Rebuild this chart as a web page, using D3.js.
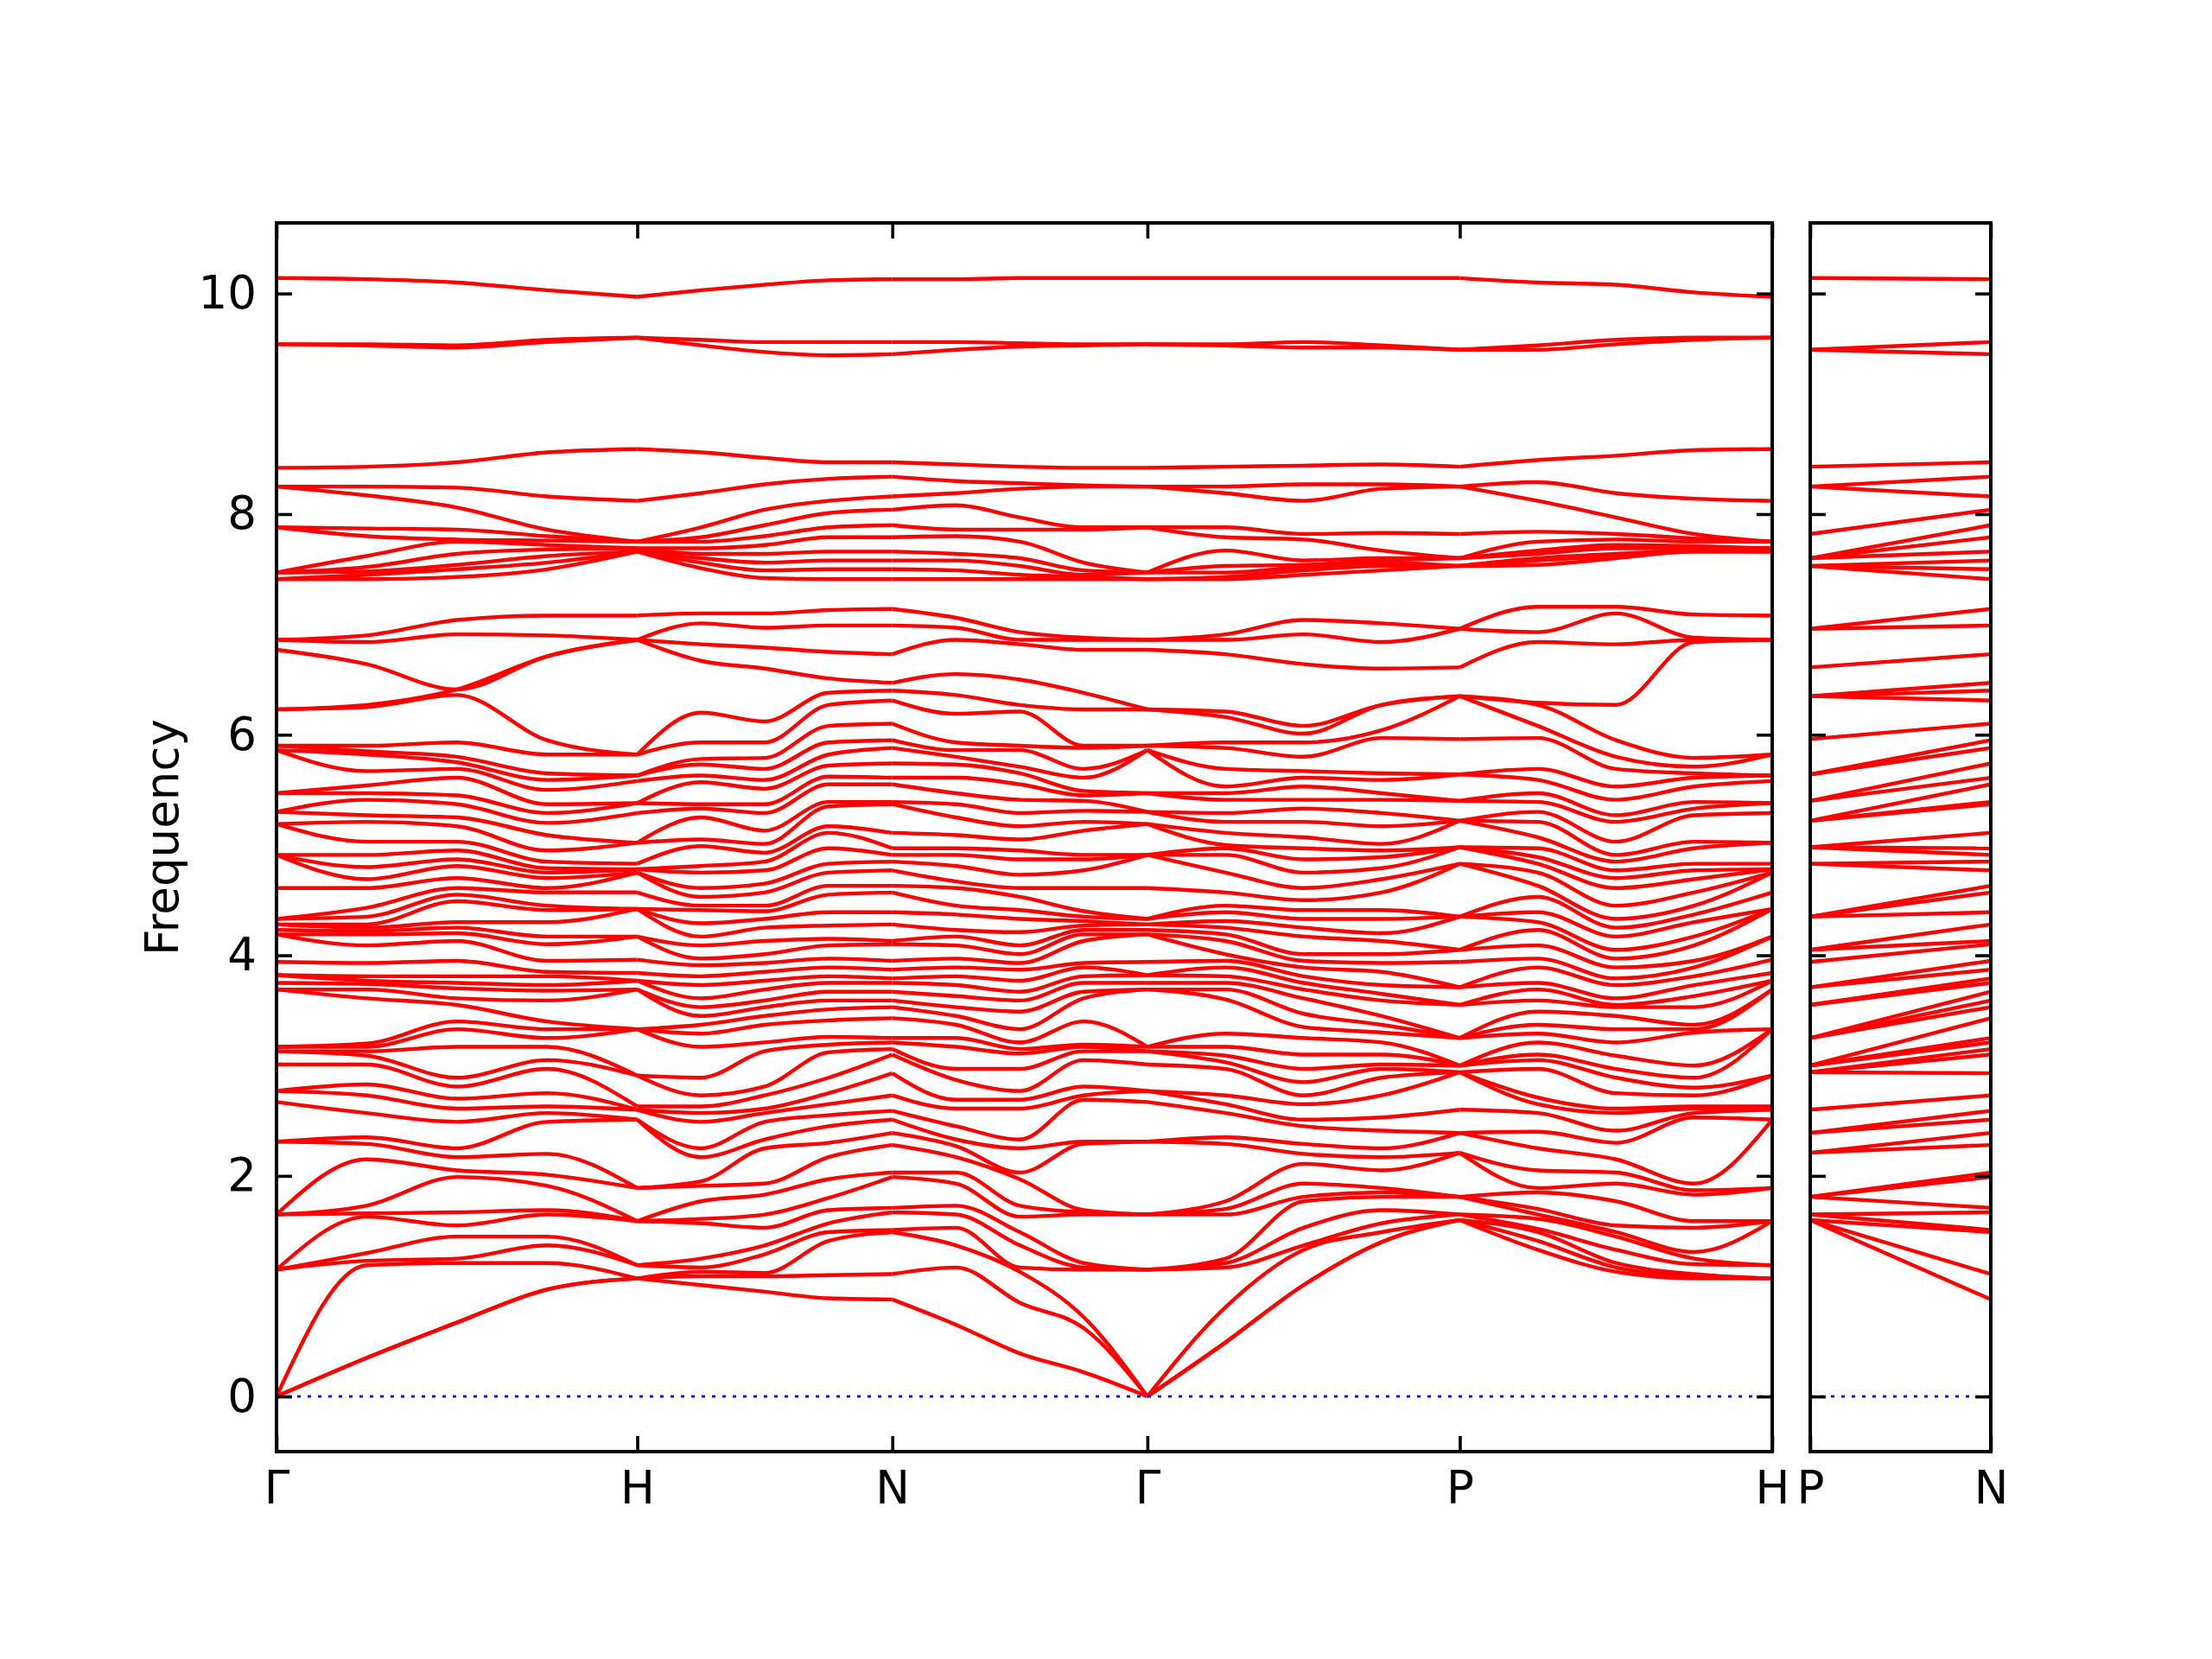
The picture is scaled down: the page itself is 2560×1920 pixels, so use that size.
<!DOCTYPE html>
<html>
<head>
<meta charset="utf-8">
<script src="https://cdn.jsdelivr.net/npm/d3@7"></script>
<style>
  body { margin: 0; background: #fff; }
  svg text { font-family: "DejaVu Sans", sans-serif; }
</style>
</head>
<body>
<svg id="chart" width="2560" height="1920"></svg>
<script>
// high-symmetry path and tick labels
const pathLabels = ["Γ", "H", "N", "Γ", "P", "H"];
const segLengths = [1, 0.7071, 0.7071, 0.8660, 0.8660];
const sideLabels = ["P", "N"];
const sideLength = 0.5;
const yTicks = [0, 2, 4, 6, 8, 10];

// frequencies (sorted) read at each sample point along the path
const gamma = [0,0,0,1.15,1.15,1.15,1.65,1.65,1.65,2.31, 2.31,2.67,2.77,2.77,3.01,3.13,3.13,3.17,3.17,3.69, 3.69,3.75,3.82,3.82,3.94,4.19,4.19,4.23,4.28,4.28, 4.33,4.33,4.61,4.91,4.91,4.91,5.19,5.19,5.30,5.30, 5.47,5.47,5.86,5.86,5.90,5.90,6.23,6.23,6.77,6.86, 6.86,7.41,7.41,7.47,7.47,7.47,7.88,7.88,8.25,8.25, 8.42,9.54,9.54,10.14];
const gh1 = [0.35,0.35,1.19,1.23,1.30,1.63,1.66,1.73,2.15,2.29, 2.35,2.57,2.73,2.83,3.01,3.09,3.13,3.17,3.20,3.61, 3.69,3.74,3.77,3.81,3.93,4.09,4.19,4.22,4.25,4.28, 4.35,4.43,4.61,4.69,4.80,4.91,5.03,5.21,5.27,5.41, 5.47,5.54,5.67,5.82,5.85,5.90,6.25,6.27,6.64,6.84, 6.90,7.41,7.45,7.48,7.52,7.62,7.80,7.87,8.17,8.25, 8.43,9.53,9.54,10.13];
const gh2 = [0.67,0.67,1.21,1.25,1.45,1.55,1.67,1.99,2.05,2.17, 2.25,2.49,2.61,2.70,2.81,2.89,3.17,3.33,3.40,3.55, 3.61,3.70,3.75,3.81,3.95,4.13,4.20,4.25,4.30,4.49, 4.55,4.61,4.70,4.81,4.87,4.95,5.03,5.17,5.25,5.37, 5.45,5.61,5.69,5.75,5.80,5.93,6.36,6.41,6.41,6.91, 7.04,7.43,7.50,7.54,7.64,7.75,7.77,7.86,8.06,8.24, 8.47,9.51,9.53,10.10];
const gh3 = [0.97,0.97,1.21,1.37,1.45,1.65,1.69,1.91,2.01,2.20, 2.49,2.57,2.63,2.75,2.97,3.05,3.17,3.25,3.33,3.40, 3.59,3.68,3.73,3.81,3.85,3.95,4.10,4.17,4.30,4.41, 4.45,4.57,4.61,4.70,4.75,4.79,4.85,4.95,5.09,5.20, 5.29,5.37,5.50,5.59,5.65,5.82,5.95,6.71,6.71,6.90, 7.08,7.50,7.56,7.62,7.68,7.72,7.76,7.80,7.86,8.16, 8.56,9.56,9.58,10.03];
const hPt = [1.07,1.07,1.07,1.19,1.19,1.59,1.59,1.59,1.89,1.89, 2.51,2.51,2.60,2.60,2.63,2.91,2.91,3.33,3.33,3.33, 3.69,3.69,3.77,3.77,3.84,3.96,4.17,4.17,4.42,4.42, 4.42,4.57,4.75,4.75,4.78,4.78,4.83,5.02,5.02,5.29, 5.38,5.38,5.58,5.63,5.63,5.82,5.82,6.86,6.86,6.86, 7.08,7.66,7.66,7.66,7.69,7.69,7.75,7.75,7.75,8.12, 8.59,9.60,9.60,9.97];
const hn1 = [1.01,1.09,1.13,1.17,1.25,1.57,1.61,1.77,1.91,1.95, 2.17,2.25,2.49,2.57,2.63,2.73,2.89,3.17,3.29,3.37, 3.45,3.53,3.61,3.73,3.81,3.91,3.97,4.09,4.17,4.29, 4.41,4.45,4.53,4.61,4.75,4.81,4.99,5.05,5.25,5.33, 5.37,5.57,5.63,5.73,5.78,5.93,6.20,6.67,6.82,7.01, 7.10,7.51,7.56,7.60,7.64,7.69,7.75,7.79,7.88,8.19, 8.56,9.53,9.58,10.03];
const hn2 = [0.95,1.09,1.12,1.29,1.37,1.53,1.65,1.83,1.93,2.25, 2.33,2.49,2.57,2.61,2.73,2.81,3.13,3.21,3.37,3.45, 3.53,3.59,3.69,3.77,3.85,3.93,4.01,4.13,4.25,4.33, 4.40,4.45,4.57,4.65,4.77,4.85,4.93,5.01,5.13,5.29, 5.37,5.51,5.59,5.69,5.79,5.93,6.12,6.60,6.79,6.97, 7.10,7.42,7.49,7.56,7.64,7.72,7.80,7.90,8.04,8.27, 8.51,9.47,9.56,10.08];
const hn3 = [0.89,1.10,1.41,1.49,1.57,1.69,1.80,1.97,2.17,2.30, 2.45,2.55,2.65,2.75,2.89,3.12,3.19,3.26,3.41,3.51, 3.59,3.67,3.75,3.81,3.89,3.97,4.09,4.15,4.27,4.39, 4.55,4.63,4.75,4.83,4.97,5.11,5.17,5.35,5.39,5.55, 5.62,5.72,5.82,5.93,6.08,6.27,6.38,6.51,6.75,6.99, 7.13,7.41,7.50,7.58,7.66,7.79,7.88,8.01,8.12,8.32, 8.47,9.44,9.56,10.12];
const nPt = [0.88,1.11,1.49,1.51,1.67,1.71,1.99,2.03,2.28,2.39, 2.51,2.59,2.73,2.93,3.10,3.15,3.21,3.25,3.43,3.53, 3.59,3.67,3.75,3.79,3.87,3.95,4.10,4.13,4.28,4.39, 4.57,4.63,4.77,4.85,4.91,4.97,5.11,5.37,5.39,5.55, 5.61,5.74,5.88,5.95,6.10,6.31,6.40,6.47,6.73,6.99, 7.14,7.41,7.50,7.58,7.66,7.79,7.90,8.04,8.16,8.34, 8.47,9.45,9.56,10.13];
const ng1 = [0.65,1.17,1.37,1.53,1.65,1.73,1.93,2.03,2.17,2.27, 2.33,2.45,2.61,2.69,2.87,2.97,3.17,3.25,3.37,3.45, 3.53,3.63,3.73,3.81,3.89,3.97,4.09,4.17,4.23,4.37, 4.45,4.61,4.67,4.81,4.91,4.97,5.09,5.25,5.37,5.47, 5.61,5.73,5.80,5.86,5.93,6.19,6.36,6.55,6.86,6.97, 7.06,7.41,7.49,7.58,7.64,7.80,7.86,8.08,8.19,8.30, 8.45,9.49,9.56,10.13];
const ng2 = [0.39,0.85,1.13,1.17,1.37,1.49,1.63,1.73,1.97,2.03, 2.25,2.33,2.61,2.69,2.77,2.97,3.11,3.15,3.21,3.33, 3.49,3.59,3.67,3.77,3.87,3.93,4.01,4.09,4.21,4.33, 4.41,4.53,4.61,4.73,4.87,4.95,5.05,5.17,5.29,5.41, 5.55,5.65,5.71,5.86,5.90,6.21,6.27,6.50,6.82,6.86, 6.93,7.41,7.45,7.53,7.60,7.75,7.86,7.97,8.23,8.28, 8.43,9.52,9.55,10.14];
const ng3 = [0.22,0.62,0.72,1.15,1.17,1.21,1.65,1.67,1.69,2.29, 2.31,2.69,2.73,2.81,3.05,3.13,3.17,3.19,3.40,3.61, 3.67,3.75,3.81,3.89,3.93,4.13,4.19,4.23,4.27,4.31, 4.35,4.40,4.61,4.77,4.87,4.91,5.13,5.21,5.31,5.40, 5.45,5.49,5.61,5.69,5.88,5.90,6.23,6.38,6.77,6.86, 6.88,7.41,7.43,7.45,7.49,7.56,7.86,7.88,8.25,8.26, 8.42,9.53,9.54,10.14];
const gp1 = [0.49,0.49,0.81,1.17,1.21,1.25,1.65,1.70,1.77,2.29, 2.35,2.57,2.65,2.73,2.97,3.03,3.09,3.17,3.29,3.60, 3.69,3.75,3.81,3.89,3.95,4.01,4.13,4.19,4.25,4.31, 4.39,4.45,4.57,4.75,4.91,4.97,5.00,5.11,5.21,5.29, 5.41,5.47,5.53,5.69,5.88,5.93,6.16,6.21,6.73,6.86, 6.91,7.41,7.43,7.47,7.53,7.67,7.79,7.88,8.19,8.25, 8.43,9.53,9.54,10.14];
const gp2 = [1.01,1.01,1.33,1.37,1.53,1.77,1.81,1.93,2.11,2.20, 2.29,2.45,2.51,2.65,2.73,2.85,2.97,3.10,3.25,3.35, 3.47,3.61,3.69,3.75,3.81,3.89,3.95,4.01,4.17,4.25, 4.33,4.41,4.50,4.61,4.75,4.87,4.97,5.07,5.21,5.33, 5.41,5.53,5.61,5.67,5.80,5.93,6.01,6.08,6.64,6.91, 7.04,7.45,7.49,7.52,7.54,7.58,7.77,7.82,8.12,8.27, 8.44,9.51,9.56,10.14];
const gp3 = [1.40,1.40,1.49,1.57,1.69,1.81,1.85,1.89,2.05,2.17, 2.25,2.41,2.53,2.73,2.89,2.97,3.01,3.10,3.21,3.30, 3.37,3.45,3.59,3.65,3.73,3.85,3.93,4.01,4.13,4.20, 4.33,4.41,4.57,4.69,4.79,4.89,4.95,5.01,5.17,5.29, 5.41,5.47,5.59,5.65,5.97,6.04,6.27,6.27,6.60,6.84, 7.01,7.49,7.53,7.56,7.58,7.60,7.67,7.83,8.23,8.27, 8.45,9.51,9.53,10.14];
const pPt = [1.60,1.60,1.60,1.65,1.65,1.81,1.81,1.81,2.21,2.21, 2.39,2.39,2.60,2.94,2.94,2.94,3.00,3.00,3.00,3.25, 3.25,3.25,3.55,3.55,3.71,3.71,3.94,4.05,4.05,4.35, 4.35,4.35,4.83,4.83,4.98,4.98,4.98,5.22,5.22,5.22, 5.40,5.40,5.64,5.64,5.96,6.35,6.35,6.35,6.61,6.96, 6.96,7.53,7.53,7.53,7.60,7.60,7.60,7.82,8.25,8.25, 8.43,9.49,9.49,10.14];
const ph1 = [1.33,1.41,1.49,1.52,1.61,1.65,1.70,1.85,1.89,2.05, 2.25,2.40,2.57,2.65,2.71,2.97,3.05,3.10,3.21,3.29, 3.37,3.49,3.59,3.69,3.75,3.89,3.97,4.09,4.23,4.30, 4.39,4.53,4.63,4.75,4.83,4.89,4.97,5.07,5.21,5.30, 5.39,5.47,5.59,5.69,5.97,6.08,6.27,6.29,6.84,6.93, 7.16,7.54,7.58,7.60,7.64,7.67,7.75,7.84,8.12,8.29, 8.49,9.49,9.53,10.10];
const ph2 = [1.13,1.17,1.21,1.33,1.45,1.49,1.55,1.77,1.93,2.03, 2.15,2.30,2.41,2.57,2.61,2.75,2.89,2.97,3.09,3.21, 3.33,3.45,3.53,3.55,3.61,3.73,3.79,3.89,3.97,4.05, 4.17,4.25,4.33,4.45,4.61,4.70,4.77,4.85,4.91,5.03, 5.21,5.27,5.41,5.53,5.69,5.80,5.95,6.27,6.82,7.10, 7.16,7.60,7.62,7.64,7.69,7.72,7.77,7.82,7.97,8.19, 8.53,9.54,9.58,10.08];
const ph3 = [1.07,1.09,1.11,1.20,1.25,1.31,1.53,1.59,1.83,1.87, 1.93,2.53,2.57,2.61,2.63,2.73,2.80,2.89,3.00,3.30, 3.33,3.37,3.53,3.63,3.73,3.81,3.89,3.95,4.09,4.17, 4.30,4.37,4.45,4.57,4.69,4.77,4.83,4.97,5.03,5.27, 5.33,5.39,5.53,5.61,5.65,5.71,5.79,6.84,6.86,6.88, 7.09,7.66,7.66,7.67,7.69,7.71,7.75,7.78,7.82,8.14, 8.58,9.58,9.60,10.01];

const mainSegments = [
  [gamma, gh1, gh2, gh3, hPt],
  [hPt, hn1, hn2, hn3, nPt],
  [nPt, ng1, ng2, ng3, gamma],
  [gamma, gp1, gp2, gp3, pPt],
  [pPt, ph1, ph2, ph3, hPt]
];
// P-N lines run straight between the two end points
const sideSegment = [pPt, nPt];

// layout
const mainBox = { left: 320, right: 2051 };
const sideBox = { left: 2095, right: 2304 };
const plotTop = 258, plotBottom = 1680;
const tickLen = 18;
const fontSize = 53;

const svg = d3.select('#chart');

const cum = [0];
segLengths.forEach(l => cum.push(cum[cum.length - 1] + l));

const y = d3.scaleLinear().domain([-0.5, 10.64]).range([plotBottom, plotTop]);
const xMain = d3.scaleLinear().domain([0, cum[cum.length - 1]]).range([mainBox.left, mainBox.right]);
const xSide = d3.scaleLinear().domain([0, sideLength]).range([sideBox.left, sideBox.right]);

const line = d3.line()
  .defined(d => d[1] != null)
  .x(d => d[0])
  .y(d => y(d[1]))
  .curve(d3.curveMonotoneX);

function drawSegment(g, slices, x, start, length) {
  const nBands = slices[0].length;
  const steps = slices.length - 1;
  for (let b = 0; b < nBands; b++) {
    const pts = slices.map((s, i) => [x(start + (i / steps) * length), s[b]]);
    g.append('path')
      .attr('d', line(pts))
      .attr('fill', 'none')
      .attr('stroke', '#ff0000')
      .attr('stroke-width', 4.4);
  }
}

const bands = svg.append('g').attr('class', 'bands');
mainSegments.forEach((slices, s) => drawSegment(bands, slices, xMain, cum[s], segLengths[s]));
drawSegment(bands, sideSegment, xSide, 0, sideLength);

// zero line
[[mainBox.left, mainBox.right], [sideBox.left, sideBox.right]].forEach(([a, b]) => {
  svg.append('line')
    .attr('x1', a).attr('x2', b)
    .attr('y1', y(0)).attr('y2', y(0))
    .attr('stroke', '#0000ff')
    .attr('stroke-width', 2.7)
    .attr('stroke-dasharray', '4,8');
});

function styleAxis(g) {
  g.select('.domain').remove();
  g.attr('font-size', fontSize).attr('font-family', '"DejaVu Sans", sans-serif');
  g.selectAll('line').attr('stroke', '#000').attr('stroke-width', 3.6);
  g.selectAll('text').attr('fill', '#000');
}

// main panel axes
svg.append('g')
  .attr('transform', `translate(${mainBox.left},0)`)
  .call(d3.axisLeft(y).tickValues(yTicks).tickSize(-tickLen).tickPadding(23).tickFormat(d3.format('d')))
  .call(styleAxis);
svg.append('g')
  .attr('transform', `translate(${mainBox.right},0)`)
  .call(d3.axisRight(y).tickValues(yTicks).tickSize(-tickLen).tickFormat(''))
  .call(styleAxis);
svg.append('g')
  .attr('transform', `translate(0,${plotBottom})`)
  .call(d3.axisBottom(xMain).tickValues(cum).tickSize(-tickLen).tickPadding(22).tickFormat((d, i) => pathLabels[i]))
  .call(styleAxis);
svg.append('g')
  .attr('transform', `translate(0,${plotTop})`)
  .call(d3.axisTop(xMain).tickValues(cum).tickSize(-tickLen).tickFormat(''))
  .call(styleAxis);

// side panel axes
svg.append('g')
  .attr('transform', `translate(${sideBox.left},0)`)
  .call(d3.axisLeft(y).tickValues(yTicks).tickSize(-tickLen).tickFormat(''))
  .call(styleAxis);
svg.append('g')
  .attr('transform', `translate(${sideBox.right},0)`)
  .call(d3.axisRight(y).tickValues(yTicks).tickSize(-tickLen).tickFormat(''))
  .call(styleAxis);
svg.append('g')
  .attr('transform', `translate(0,${plotBottom})`)
  .call(d3.axisBottom(xSide).tickValues([0, sideLength]).tickSize(-tickLen).tickPadding(22).tickFormat((d, i) => sideLabels[i]))
  .call(styleAxis);
svg.append('g')
  .attr('transform', `translate(0,${plotTop})`)
  .call(d3.axisTop(xSide).tickValues([0, sideLength]).tickSize(-tickLen).tickFormat(''))
  .call(styleAxis);

// frames
[mainBox, sideBox].forEach(bx => {
  svg.append('rect')
    .attr('x', bx.left).attr('y', plotTop)
    .attr('width', bx.right - bx.left).attr('height', plotBottom - plotTop)
    .attr('fill', 'none')
    .attr('stroke', '#000')
    .attr('stroke-width', 4);
});

// y label
svg.append('text')
  .attr('transform', `translate(187,${(plotTop + plotBottom) / 2}) rotate(-90)`)
  .attr('text-anchor', 'middle')
  .attr('dominant-baseline', 'central')
  .attr('font-size', fontSize)
  .text('Frequency');
</script>
</body>
</html>
